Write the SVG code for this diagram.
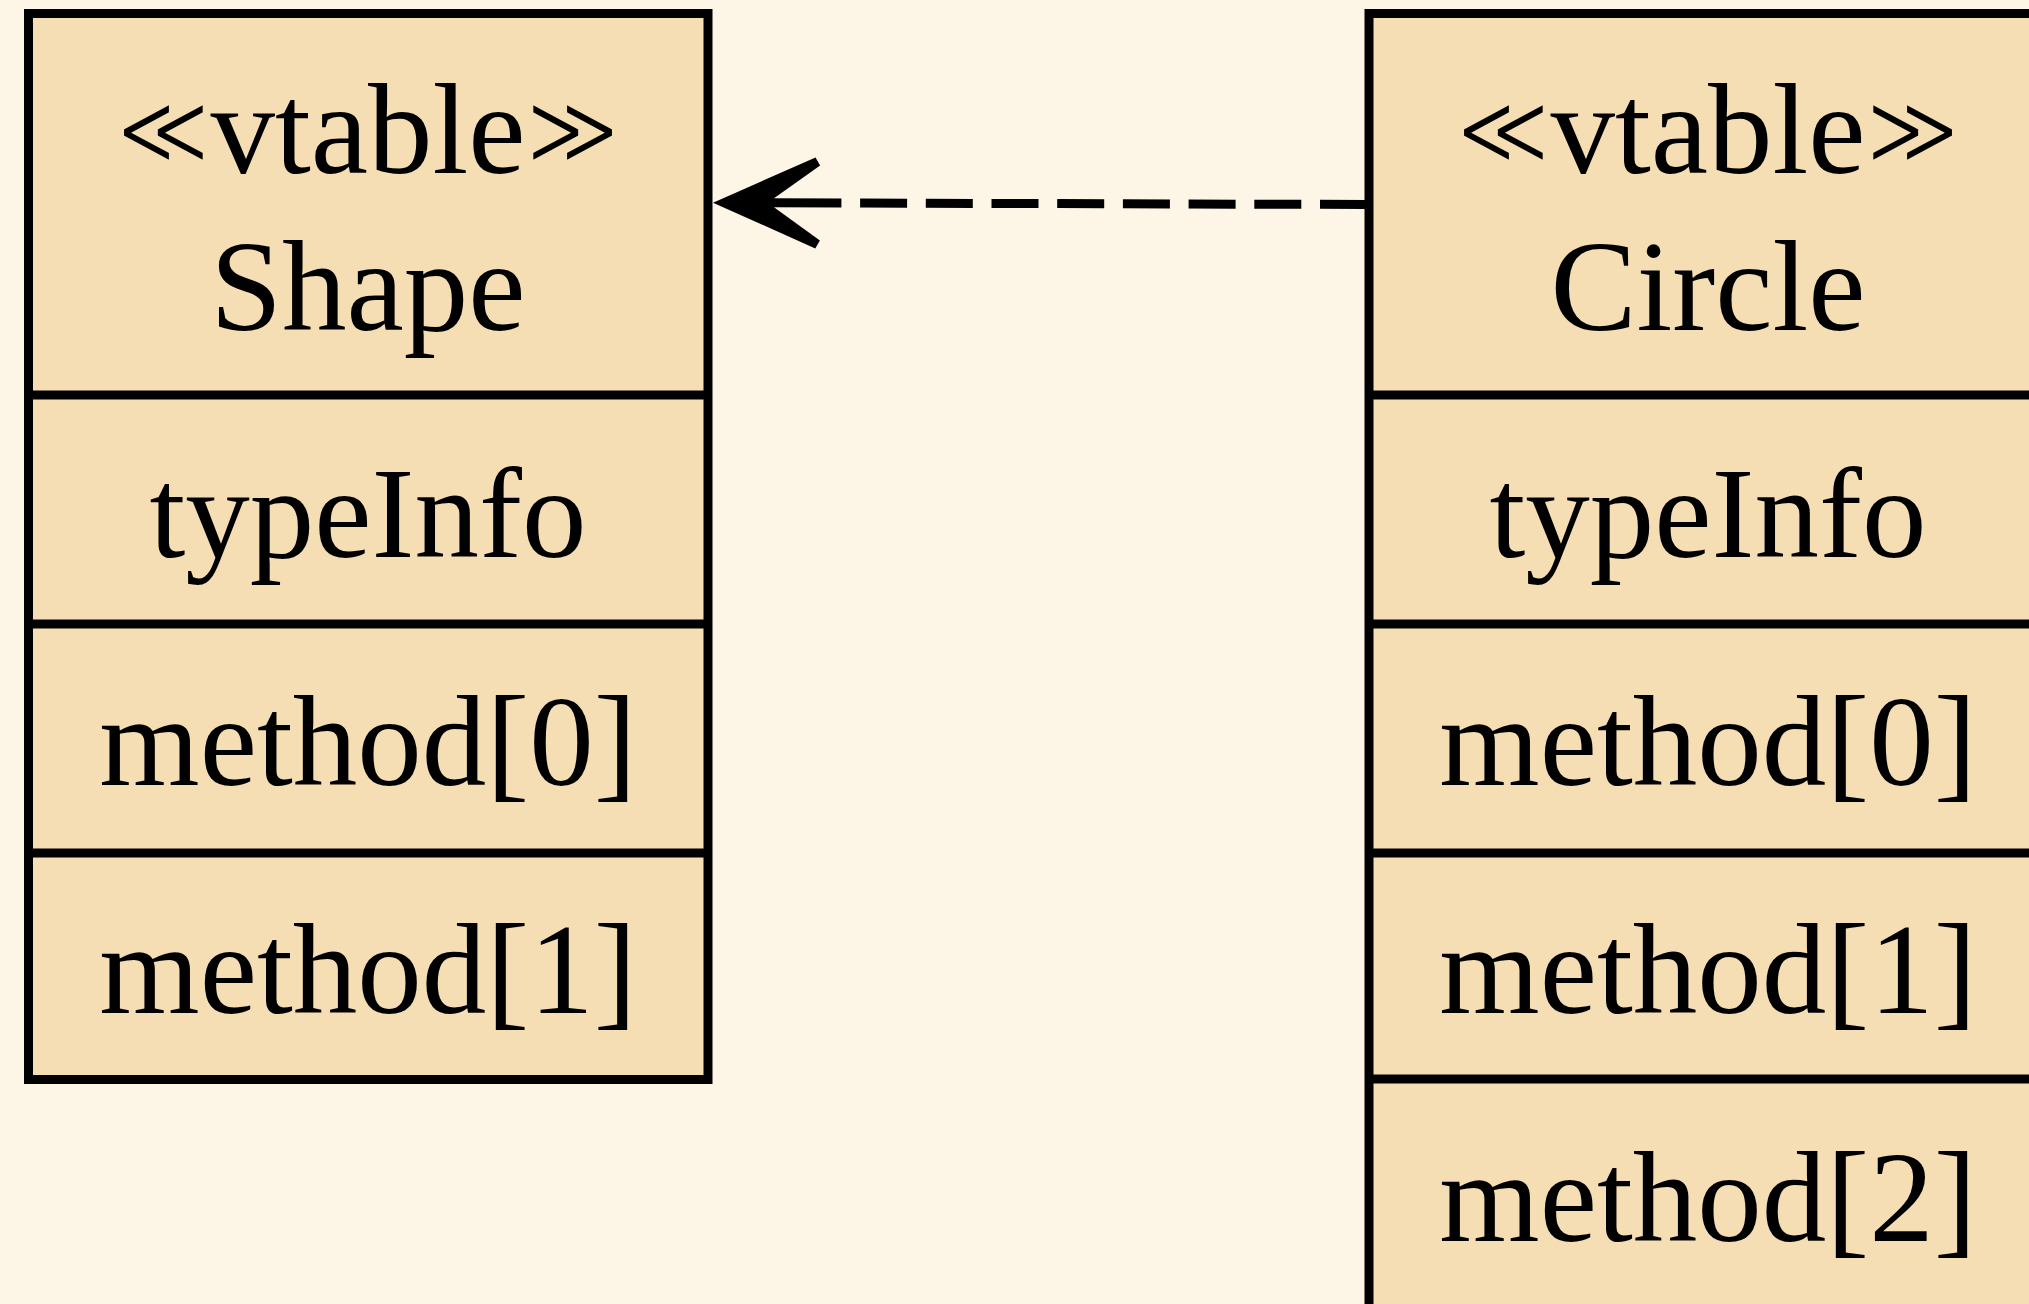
<svg xmlns="http://www.w3.org/2000/svg" width="2029" height="1304" viewBox="0 0 2029 1304">
  <style>
    .box { fill: #F5DEB3; stroke: #000; stroke-width: 9; }
    .sep { stroke: #000; stroke-width: 9; }
    .lbl { font-family: "Liberation Serif", "Times New Roman", serif; font-size: 129px; fill: #000; text-anchor: middle; }
    .gm { font-family: "DejaVu Sans Condensed", "DejaVu Sans", sans-serif; font-stretch: condensed; font-size: 100px; stroke: #F5DEB3; stroke-width: 2.5; }
    .edge { fill: none; stroke: #000; stroke-width: 9; stroke-dasharray: 47 18.7; }
  </style>
  <defs>
    <!-- open "vee" head with a short solid stem, drawn at the end of the dashed edge -->
    <marker id="vee" markerUnits="userSpaceOnUse" orient="auto" refX="0" refY="0" markerWidth="140" markerHeight="100" overflow="visible">
      <polygon points="128,0 25.6,-45.5 21,-37.5 67,-4.5 0,-4.5 0,4.5 67,4.5 21,37.5 25.6,45.5" fill="#000"/>
    </marker>
  </defs>

  <rect width="2029" height="1304" fill="#FDF5E5"/>

  <g id="Shape">
    <rect class="box" x="28.5" y="13.5" width="679.5" height="1066"/>
    <line class="sep" x1="28.5" y1="395" x2="708" y2="395"/>
    <line class="sep" x1="28.5" y1="624" x2="708" y2="624"/>
    <line class="sep" x1="28.5" y1="853" x2="708" y2="853"/>
    <text class="lbl" x="368" y="173"><tspan class="gm" dy="-9">≪</tspan><tspan dy="9">vtable</tspan><tspan class="gm" dy="-9">≫</tspan></text>
    <text class="lbl" x="368" y="329.5">Shape</text>
    <text class="lbl" x="368" y="557">typeInfo</text>
    <text class="lbl" x="368" y="785">method[0]</text>
    <text class="lbl" x="368" y="1013">method[1]</text>
  </g>

  <g id="Circle">
    <rect class="box" x="1369" y="13.5" width="678" height="1330"/>
    <line class="sep" x1="1369" y1="395" x2="2047" y2="395"/>
    <line class="sep" x1="1369" y1="624" x2="2047" y2="624"/>
    <line class="sep" x1="1369" y1="853" x2="2047" y2="853"/>
    <line class="sep" x1="1369" y1="1079" x2="2047" y2="1079"/>
    <text class="lbl" x="1708" y="173"><tspan class="gm" dy="-9">≪</tspan><tspan dy="9">vtable</tspan><tspan class="gm" dy="-9">≫</tspan></text>
    <text class="lbl" x="1708" y="329.5">Circle</text>
    <text class="lbl" x="1708" y="557">typeInfo</text>
    <text class="lbl" x="1708" y="785">method[0]</text>
    <text class="lbl" x="1708" y="1013">method[1]</text>
    <text class="lbl" x="1708" y="1241">method[2]</text>
  </g>

  <g id="connectors">
    <path class="edge" d="M1367,204.5 L841,203" marker-end="url(#vee)"/>
  </g>
</svg>
